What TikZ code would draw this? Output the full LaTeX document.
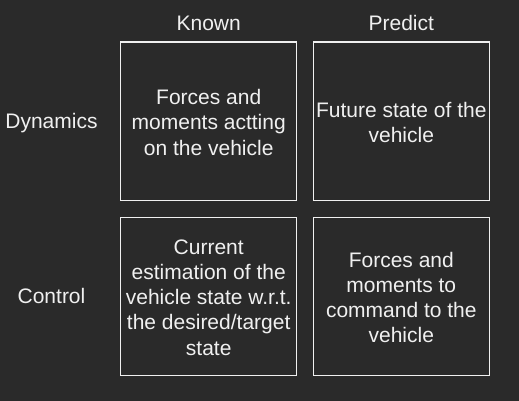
\documentclass[tikz,border=0pt]{standalone}
\usepackage{fontspec}
\setmainfont{Liberation Sans}
\definecolor{bgdark}{HTML}{2A2A2A}
\definecolor{ink}{HTML}{F0F0F0}
\begin{document}
\begin{tikzpicture}[x=1pt,y=-1pt,
  cell/.style={draw=ink, line width=1.4pt, minimum width=176pt, minimum height=158pt,
    inner sep=0pt, text=ink, align=center, font=\fontsize{21}{25.2}\selectfont},
  head/.style={text=ink, font=\fontsize{21}{25.2}\selectfont, inner sep=0pt}]
  % canvas
  \fill[bgdark] (0,0) rectangle (519,401);
  \useasboundingbox (0,0) rectangle (519,401);

  % 2x2 grid of cells
  \node[cell] (dk) at (208.7,121.2) {};
  \node[cell] (dp) at (401.3,121.2) {};
  \node[cell] (ck) at (208.7,296.3) {};
  \node[cell] (cp) at (401.3,296.3) {};

  % cell texts, placed slightly below the geometric centres
  \node[head, align=center] (dkt) at ([yshift=-1.2pt]dk.center) {Forces and\\moments actting\\on the vehicle};
  \node[head, align=center] (dpt) at ([yshift=-1.2pt]dp.center) {Future state of the\\vehicle};
  \node[head, align=center] (ckt) at ([yshift=-1.2pt]ck.center) {Current\\estimation of the\\vehicle state w.r.t.\\the desired/target\\state};
  \node[head, align=center] (cpt) at ([yshift=-1.2pt]cp.center) {Forces and\\moments to\\command to the\\vehicle};

  % column headings
  \node[head, anchor=base] (known) at (208.7,31) {Known};
  \node[head, anchor=base] (predict) at (401.3,31) {Predict};

  % row headings
  \node[head, anchor=base] (dyn) at (51.5,128.5) {Dynamics};
  \node[head, anchor=base] (ctl) at (51.5,303.5) {Control};
\end{tikzpicture}
\end{document}
